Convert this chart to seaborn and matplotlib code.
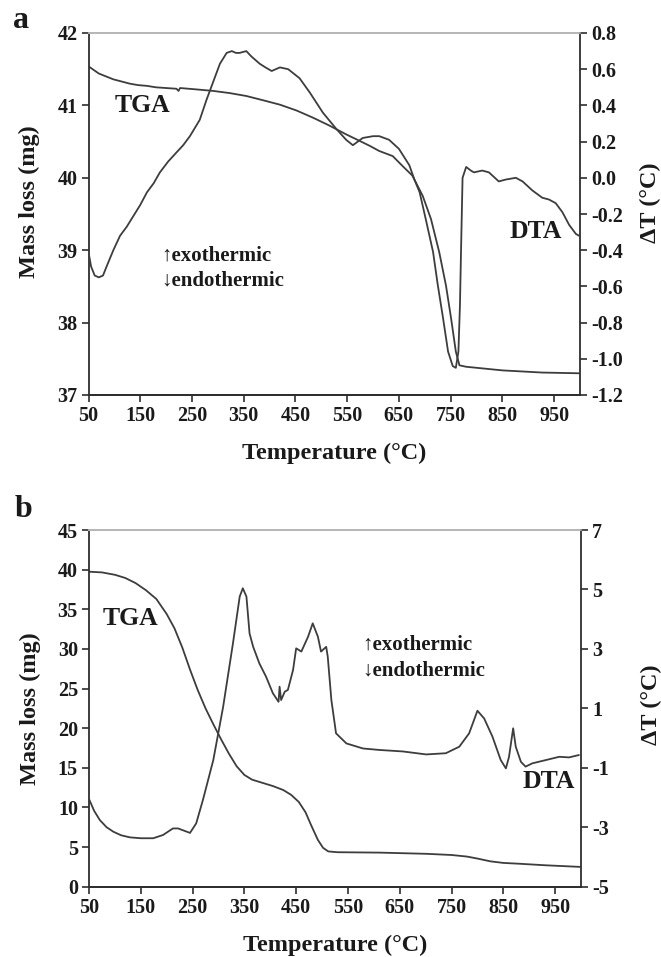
import matplotlib
matplotlib.use("Agg")
import matplotlib.pyplot as plt
import seaborn as sns
import pandas as pd
from matplotlib.ticker import FixedLocator, FormatStrFormatter

# ---------------- data ----------------
# Panel a
temp_a_tga = [50, 60, 70, 84, 98, 114, 130, 146, 163, 180, 200, 220, 224, 227, 260, 291, 323, 355,
              388, 420, 452, 484, 516, 548, 574, 594, 612, 638, 656, 676, 696, 712, 728, 741, 751,
              760, 767, 780, 850, 927, 998]
mass_a_tga = [41.54, 41.49, 41.44, 41.40, 41.36, 41.33, 41.30, 41.28, 41.27, 41.25, 41.24, 41.23,
              41.20, 41.24, 41.22, 41.20, 41.17, 41.13, 41.07, 41.01, 40.93, 40.83, 40.72, 40.60,
              40.51, 40.44, 40.37, 40.30, 40.17, 40.03, 39.75, 39.43, 38.97, 38.51, 38.05, 37.60,
              37.41, 37.39, 37.34, 37.31, 37.30]
temp_a_dta = [50, 55, 62, 70, 78, 85, 98, 111, 124, 137, 150, 163, 176, 188, 204, 220, 233, 246,
              265, 278, 291, 304, 317, 327, 335, 342, 355, 365, 381, 392, 404, 420, 436, 458, 478,
              503, 529, 548, 561, 580, 600, 612, 631, 650, 670, 680, 690, 702, 716, 725, 735, 745,
              754, 760, 765, 768, 770, 773, 780, 789, 795, 811, 824, 843, 856, 876, 889, 908, 927,
              940, 953, 966, 979, 992, 998]
dt_a_dta = [-0.41, -0.49, -0.54, -0.55, -0.54, -0.49, -0.40, -0.32, -0.27, -0.21, -0.15, -0.08,
            -0.03, 0.03, 0.09, 0.14, 0.18, 0.23, 0.32, 0.43, 0.53, 0.63, 0.69, 0.70, 0.69, 0.69,
            0.70, 0.67, 0.63, 0.61, 0.59, 0.61, 0.60, 0.55, 0.47, 0.36, 0.27, 0.21, 0.18, 0.22,
            0.23, 0.23, 0.21, 0.16, 0.07, -0.01, -0.08, -0.23, -0.41, -0.59, -0.77, -0.96, -1.04,
            -1.05, -0.96, -0.70, -0.41, 0.00, 0.06, 0.04, 0.03, 0.04, 0.03, -0.02, -0.01, 0.00,
            -0.02, -0.07, -0.11, -0.12, -0.14, -0.19, -0.26, -0.31, -0.32]

# Panel b
temp_b_tga = [50, 75, 100, 120, 140, 160, 180, 200, 215, 230, 245, 260, 275, 290, 305, 320, 335,
              350, 365, 385, 405, 425, 440, 455, 468, 480, 492, 502, 512, 530, 611, 701, 750, 780,
              800, 825, 850, 880, 932, 998]
mass_b_tga = [39.74, 39.65, 39.35, 38.95, 38.3, 37.4, 36.3, 34.4, 32.6, 30.2, 27.4, 24.8, 22.5,
              20.5, 18.6, 16.8, 15.2, 14.1, 13.5, 13.1, 12.7, 12.2, 11.6, 10.7, 9.4, 7.6, 5.9, 4.9,
              4.45, 4.35, 4.3, 4.15, 4.0, 3.8, 3.55, 3.2, 3.0, 2.9, 2.7, 2.5]
temp_b_dta = [50, 60, 71, 84, 97, 112, 129, 150, 174, 193, 212, 222, 245, 257, 270, 290, 309, 328,
              341, 347, 354, 360, 367, 379, 392, 405, 416, 418, 421, 428, 434, 444, 450, 460, 473,
              482, 492, 498, 508, 511, 518, 527, 547, 579, 611, 656, 701, 739, 765, 784, 800, 813,
              829, 845, 855, 861, 869, 874, 884, 893, 906, 932, 958, 977, 996]
dt_b_dta = [-2.05, -2.45, -2.76, -3.0, -3.15, -3.27, -3.34, -3.37, -3.37, -3.26, -3.04, -3.04,
            -3.19, -2.87, -2.08, -0.74, 1.05, 3.19, 4.76, 5.04, 4.76, 3.52, 3.07, 2.51, 2.06, 1.51,
            1.22, 1.73, 1.28, 1.56, 1.62, 2.29, 3.02, 2.91, 3.41, 3.86, 3.41, 2.91, 3.07, 2.74,
            1.28, 0.16, -0.18, -0.35, -0.40, -0.45, -0.55, -0.51, -0.29, 0.16, 0.92, 0.66, 0.05,
            -0.74, -1.02, -0.63, 0.33, -0.29, -0.80, -0.96, -0.85, -0.74, -0.63, -0.65, -0.57]

x_ticks = [50, 150, 250, 350, 450, 550, 650, 750, 850, 950]
a_left_ticks = [37, 38, 39, 40, 41, 42]
a_right_ticks = [-1.2, -1.0, -0.8, -0.6, -0.4, -0.2, 0.0, 0.2, 0.4, 0.6, 0.8]
b_left_ticks = [0, 5, 10, 15, 20, 25, 30, 35, 40, 45]
b_right_ticks = [-5, -3, -1, 1, 3, 5, 7]

# ---------------- style ----------------
sns.set_style("ticks")
plt.rcParams["font.family"] = ["Liberation Serif", "DejaVu Serif"]
plt.rcParams["font.weight"] = "bold"
plt.rcParams["axes.unicode_minus"] = False

W, H = 661, 957
LINE = "#3d3d3d"
AX = "#2e2e2e"
TICK_FS = 14.5
LAB_FS = 17.5
NOTE_FS = 15
CURVE_FS = 18.5

fig = plt.figure(figsize=(W / 100, H / 100), dpi=100)


def px(x, y):
    return x / W, 1 - y / H


def make_panel(rect, tga_x, tga_y, dta_x, dta_y, lticks, rticks, rfmt, lab_y_left, lab_y_right):
    ax = fig.add_axes(rect)
    axr = ax.twinx()
    sns.lineplot(x=tga_x, y=tga_y, ax=ax, color=LINE, lw=1.3, estimator=None, sort=False)
    sns.lineplot(x=dta_x, y=dta_y, ax=axr, color=LINE, lw=1.3, estimator=None, sort=False)
    ax.set_xlim(50, 1000)
    ax.set_ylim(lticks[0], lticks[-1])
    axr.set_ylim(rticks[0], rticks[-1])
    ax.xaxis.set_major_locator(FixedLocator(x_ticks))
    ax.yaxis.set_major_locator(FixedLocator(lticks))
    axr.yaxis.set_major_locator(FixedLocator(rticks))
    axr.yaxis.set_major_formatter(FormatStrFormatter(rfmt))
    for a in (ax, axr):
        for s in ("left", "right", "bottom"):
            a.spines[s].set_color(AX)
            a.spines[s].set_linewidth(1.3)
        a.spines["top"].set_color("#b5b5b5")
        a.spines["top"].set_linewidth(1.2)
        a.tick_params(direction="out", length=5, width=1.2, color=AX,
                      labelsize=TICK_FS, labelcolor="#1a1a1a", pad=3)
    axr.spines["left"].set_visible(False)
    ax.spines["right"].set_visible(False)
    ax.set_xlabel("Temperature (°C)", fontsize=LAB_FS, fontweight="bold", color="#1a1a1a")
    ax.set_ylabel("Mass loss (mg)", fontsize=LAB_FS, fontweight="bold", color="#1a1a1a")
    axr.set_ylabel("ΔT (°C)", fontsize=LAB_FS, fontweight="bold", color="#1a1a1a")
    h_px = rect[3] * H
    ax.xaxis.set_label_coords(0.5, -48 / h_px)
    ax.yaxis.set_label_coords(-0.098, lab_y_left)
    axr.yaxis.set_label_coords(1.122, lab_y_right)
    return ax, axr


# panel a
make_panel([88.5 / W, 1 - 395 / H, (580 - 88.5) / W, (395 - 33) / H],
           temp_a_tga, mass_a_tga, temp_a_dta, dt_a_dta,
           a_left_ticks, a_right_ticks, "%.1f", 0.535, 0.53)
# panel b
make_panel([89 / W, 1 - 886.7 / H, (581 - 89) / W, (886.7 - 530) / H],
           temp_b_tga, mass_b_tga, temp_b_dta, dt_b_dta,
           b_left_ticks, b_right_ticks, "%d", 0.5, 0.51)

txt = dict(fontweight="bold", color="#1a1a1a", ha="left", va="baseline")
fig.text(*px(13, 28), "a", fontsize=23, **txt)
fig.text(*px(15, 517), "b", fontsize=23, **txt)
fig.text(*px(115, 112), "TGA", fontsize=CURVE_FS, **txt)
fig.text(*px(510, 238), "DTA", fontsize=CURVE_FS, **txt)
fig.text(*px(161, 261), "↑exothermic", fontsize=NOTE_FS, **txt)
fig.text(*px(161, 286), "↓endothermic", fontsize=NOTE_FS, **txt)
fig.text(*px(103, 625), "TGA", fontsize=CURVE_FS, **txt)
fig.text(*px(523, 788), "DTA", fontsize=CURVE_FS, **txt)
fig.text(*px(362, 650), "↑exothermic", fontsize=NOTE_FS, **txt)
fig.text(*px(362, 676), "↓endothermic", fontsize=NOTE_FS, **txt)

fig.savefig("out.png", dpi=100)
